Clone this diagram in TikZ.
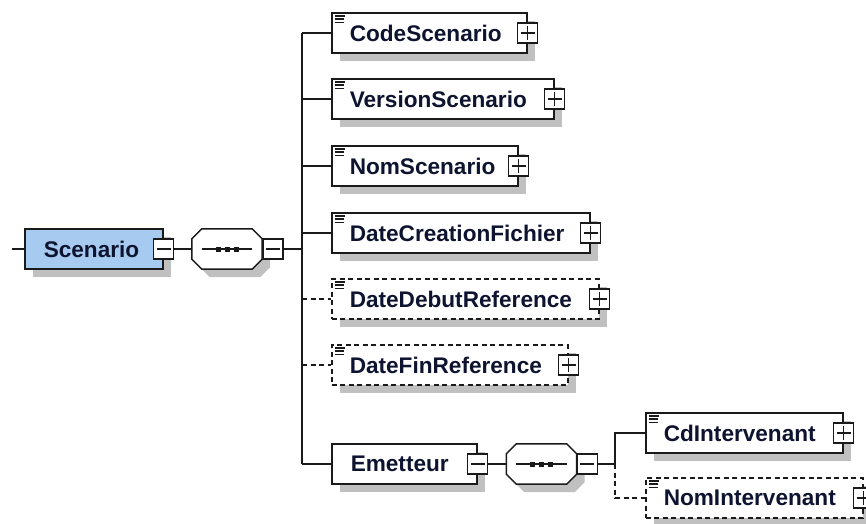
\documentclass[tikz,border=0pt]{standalone}
\usepackage{fontspec}
\setmainfont{Liberation Sans}
\usetikzlibrary{shadows,calc}
\definecolor{scfill}{HTML}{A6CAF0}
\definecolor{shad}{HTML}{C0C0C0}
\definecolor{txt}{HTML}{0E1430}
\definecolor{ln}{HTML}{1A1A1A}
\tikzset{
  elem/.style={draw=ln, line width=1.5pt, fill=white, minimum height=40pt,
    inner ysep=0pt, inner xsep=18pt, text width=#1, align=left,
    font=\fontsize{22.6}{26}\selectfont\bfseries, text=txt,
    general shadow={fill=shad, shadow xshift=8pt, shadow yshift=-8pt}, anchor=west},
  opt/.style={dash pattern=on 5pt off 3.5pt},
  pmbox/.style={draw=ln, line width=1.3pt, fill=white, minimum size=20pt, inner sep=0pt},
  pmplus/.style={pmbox, path picture={\draw[line width=1.3pt, ln]
      ([xshift=3pt]path picture bounding box.west) -- ([xshift=-3pt]path picture bounding box.east)
      ([yshift=3pt]path picture bounding box.south) -- ([yshift=-3pt]path picture bounding box.north);}},
  pmminus/.style={pmbox, path picture={\draw[line width=1.3pt, ln]
      ([xshift=3pt]path picture bounding box.west) -- ([xshift=-3pt]path picture bounding box.east);}},
  conn/.style={draw=ln, line width=1.3pt},
  seqbox/.style={minimum width=70pt, minimum height=40pt, inner sep=0pt},
  octo/.style={draw=ln, line width=1.5pt, fill=white,
    general shadow={fill=shad, shadow xshift=8pt, shadow yshift=-8pt}},
  icon/.style={draw=ln, line width=1.6pt},
}
\newcommand{\xsdoct}[1]{%
  \draw[octo] ([xshift=10pt]#1.north west) -- ([xshift=-10pt]#1.north east)
    -- ([yshift=-10pt]#1.north east) -- ([yshift=10pt]#1.south east)
    -- ([xshift=-10pt]#1.south east) -- ([xshift=10pt]#1.south west)
    -- ([yshift=10pt]#1.south west) -- ([yshift=-10pt]#1.north west) -- cycle;
  \draw[conn] ([xshift=10pt]#1.west) -- ([xshift=-10pt]#1.east);
  \fill[ln] ($(#1.center)+(-9,0)$) +(-2.5,-2.5) rectangle +(2.5,2.5);
  \fill[ln] (#1.center) +(-2.5,-2.5) rectangle +(2.5,2.5);
  \fill[ln] ($(#1.center)+(9,0)$) +(-2.5,-2.5) rectangle +(2.5,2.5);}
\newcommand{\xsdicon}[1]{%
  \draw[icon] ([xshift=3.5pt,yshift=-3.5pt]#1.north west) -- ++(10,0)
    ([xshift=3.5pt,yshift=-6.8pt]#1.north west) -- ++(9,0)
    ([xshift=3.5pt,yshift=-10.1pt]#1.north west) -- ++(9,0);}
\begin{document}
\begin{tikzpicture}[x=1pt,y=-1pt]
\clip (0,0) rectangle (866,523);
\fill[white] (0,0) rectangle (866,523);
% root
\coordinate (stub) at (12,249);
\node[elem=100, inner xsep=19pt, fill=scfill] (scen) at (24,249) {Scenario};
\node[pmminus] (scm) at (scen.east) {};
\node[seqbox] (seq1) at (227,249) {};
\xsdoct{seq1}
\node[pmminus, anchor=west] (seqm1) at (seq1.east) {};
\coordinate (bus) at (302,249);
% children
\node[elem=159] (code) at (331,33) {CodeScenario};
\node[pmplus] (codep) at (code.east) {};
\xsdicon{code}
\node[elem=186] (vers) at (331,99) {VersionScenario};
\node[pmplus] (versp) at (vers.east) {};
\xsdicon{vers}
\node[elem=150] (nom) at (331,166) {NomScenario};
\node[pmplus] (nomp) at (nom.east) {};
\xsdicon{nom}
\node[elem=222] (dcf) at (331,233) {DateCreationFichier};
\node[pmplus] (dcfp) at (dcf.east) {};
\xsdicon{dcf}
\node[elem=231, opt] (ddr) at (331,299) {DateDebutReference};
\node[pmplus] (ddrp) at (ddr.east) {};
\xsdicon{ddr}
\node[elem=200, opt] (dfr) at (331,365) {DateFinReference};
\node[pmplus] (dfrp) at (dfr.east) {};
\xsdicon{dfr}
\node[elem=107, inner xsep=19pt] (emet) at (331,464) {Emetteur};
\node[pmminus] (emm) at (emet.east) {};
\node[seqbox] (seq2) at (541.5,464) {};
\xsdoct{seq2}
\node[pmminus, anchor=west] (seqm2) at (seq2.east) {};
\coordinate (bus2) at (615,464);
\node[elem=161] (cdi) at (645,433) {CdIntervenant};
\node[pmplus] (cdip) at (cdi.east) {};
\xsdicon{cdi}
\node[elem=181, opt] (nomi) at (645,498) {NomIntervenant};
\node[pmplus] (nomip) at (nomi.east) {};
\xsdicon{nomi}
% connectors
\draw[conn] (stub) -- (scen.west);
\draw[conn] (scm.east) -- (seq1.west);
\draw[conn] (seqm1.east) -- (bus);
\draw[conn] (bus |- code.west) -- (bus |- emet.west);
\draw[conn] (bus |- code.west) -- (code.west);
\draw[conn] (bus |- vers.west) -- (vers.west);
\draw[conn] (bus |- nom.west) -- (nom.west);
\draw[conn] (bus |- dcf.west) -- (dcf.west);
\draw[conn, opt] (bus |- ddr.west) -- (ddr.west);
\draw[conn, opt] (bus |- dfr.west) -- (dfr.west);
\draw[conn] (bus |- emet.west) -- (emet.west);
\draw[conn] (emm.east) -- (seq2.west);
\draw[conn] (seqm2.east) -- (bus2);
\draw[conn] (bus2) -- (bus2 |- cdi.west) -- (cdi.west);
\draw[conn, opt] (bus2) -- (bus2 |- nomi.west) -- (nomi.west);
\end{tikzpicture}
\end{document}
